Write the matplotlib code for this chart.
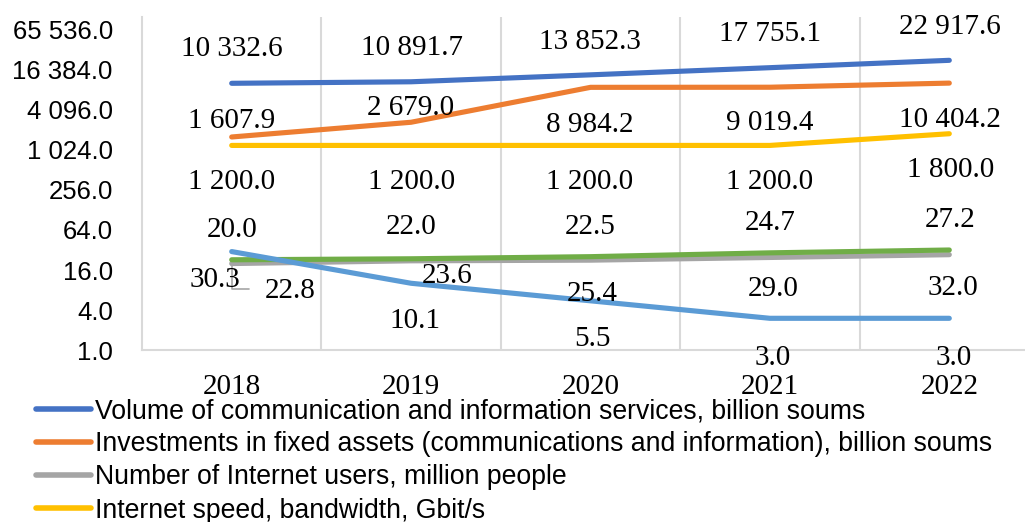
import matplotlib
matplotlib.use("Agg")
import matplotlib.pyplot as plt
from matplotlib.lines import Line2D
from matplotlib.ticker import FixedLocator, FuncFormatter

years = ["2018", "2019", "2020", "2021", "2022"]

volume = [10332.6, 10891.7, 13852.3, 17755.1, 22917.6]
investments = [1607.9, 2679.0, 8984.2, 9019.4, 10404.2]
users = [20.0, 22.0, 22.5, 24.7, 27.2]
speed = [1200.0, 1200.0, 1200.0, 1200.0, 1800.0]
green_series = [22.8, 23.6, 25.4, 29.0, 32.0]
lightblue_series = [30.3, 10.1, 5.5, 3.0, 3.0]

legend_labels = [
    "Volume of communication and information services, billion soums",
    "Investments in fixed assets (communications and information), billion soums",
    "Number of Internet users, million people",
    "Internet speed, bandwidth, Gbit/s",
]

y_ticks = [1, 4, 16, 64, 256, 1024, 4096, 16384, 65536]

# label offsets in pixels (dx, dy) relative to each point, Excel placed them by hand
series = [
    (volume, "#4472C4", [(0, 34), (1, 34), (-1, 33), (0, 34), (1, 33)]),
    (investments, "#ED7D31", [(0, 16), (-1, 14), (-1, -38), (0, -36), (1, -37)]),
    (users, "#A5A5A5", [(0, 34), (0, 34), (0, 33), (0, 34), (1, 35)]),
    (speed, "#FFC000", [(0, -37), (0, -37), (-1, -37), (0, -37), (1, -36)]),
    (green_series, "#70AD47", [(58, -31), (36, -17), (2, -37), (3, -36), (4, -38)]),
    (lightblue_series, "#5B9BD5", [(-17, -28), (4, -38), (2, -38), (3, -40), (4, -40)]),
]

W, H = 1025, 522
fig = plt.figure(figsize=(W / 100, H / 100), dpi=100)
ax = fig.add_axes([142 / W, 1 - 350 / H, 897 / W, 333 / H])

x = list(range(len(years)))
for values, color, offsets in series:
    ax.plot(x, values, color=color, lw=3.7, solid_capstyle="round", zorder=3)
    for xi, v, (dx, dy) in zip(x, values, offsets):
        ax.annotate(f"{v:,.1f}".replace(",", " "), (xi, v), xytext=(dx, dy),
                    textcoords="offset pixels", ha="center", va="center",
                    fontsize=21, family="Liberation Serif", color="black", zorder=4)

# small leader line for the 30.3 label
ax.annotate("", xy=(0, users[0]), xytext=(17, -25), textcoords="offset pixels",
            arrowprops=dict(arrowstyle="-", color="#A5A5A5", lw=1.2,
                            connectionstyle="angle,angleA=0,angleB=90,rad=0",
                            shrinkA=0, shrinkB=0), zorder=2)

ax.set_yscale("log", base=2)
ax.set_ylim(1, 2 ** 16.65)
ax.set_xlim(-0.5, 4.5)
ax.yaxis.set_major_locator(FixedLocator(y_ticks))
ax.yaxis.set_minor_locator(FixedLocator([]))
ax.yaxis.set_major_formatter(FuncFormatter(lambda v, p: f"{v:,.1f}".replace(",", " ")))
ax.set_xticks(x)
ax.set_xticklabels(years, family="Liberation Serif", fontsize=21)
ax.tick_params(axis="y", length=0, pad=21, labelsize=18.5)
ax.tick_params(axis="x", length=0, pad=17)
for lab in ax.get_yticklabels():
    lab.set_family("Liberation Sans")

# vertical lines between categories
ax.set_xticks([i + 0.5 for i in x], minor=True)
ax.tick_params(axis="x", which="minor", length=0)
ax.grid(True, axis="x", which="minor", color="#D9D9D9", lw=1.5)
ax.grid(False, axis="y")
for s in ["top", "right"]:
    ax.spines[s].set_visible(False)
ax.spines["left"].set_color("#D9D9D9")
ax.spines["left"].set_linewidth(1.5)
ax.spines["bottom"].set_color("#D9D9D9")
ax.spines["bottom"].set_linewidth(1.5)

handles = [Line2D([0], [0], color=c, lw=4, solid_capstyle="round") for _, c, _ in series[:4]]
fig.legend(handles, legend_labels, loc="upper left", bbox_to_anchor=(36 / W, 1 - 398 / H),
           frameon=False, prop={"family": "Liberation Sans", "size": 19.2},
           handlelength=2.08, handletextpad=0.15, labelspacing=0.27, borderpad=0, borderaxespad=0)

fig.savefig("out.png", dpi=100)
